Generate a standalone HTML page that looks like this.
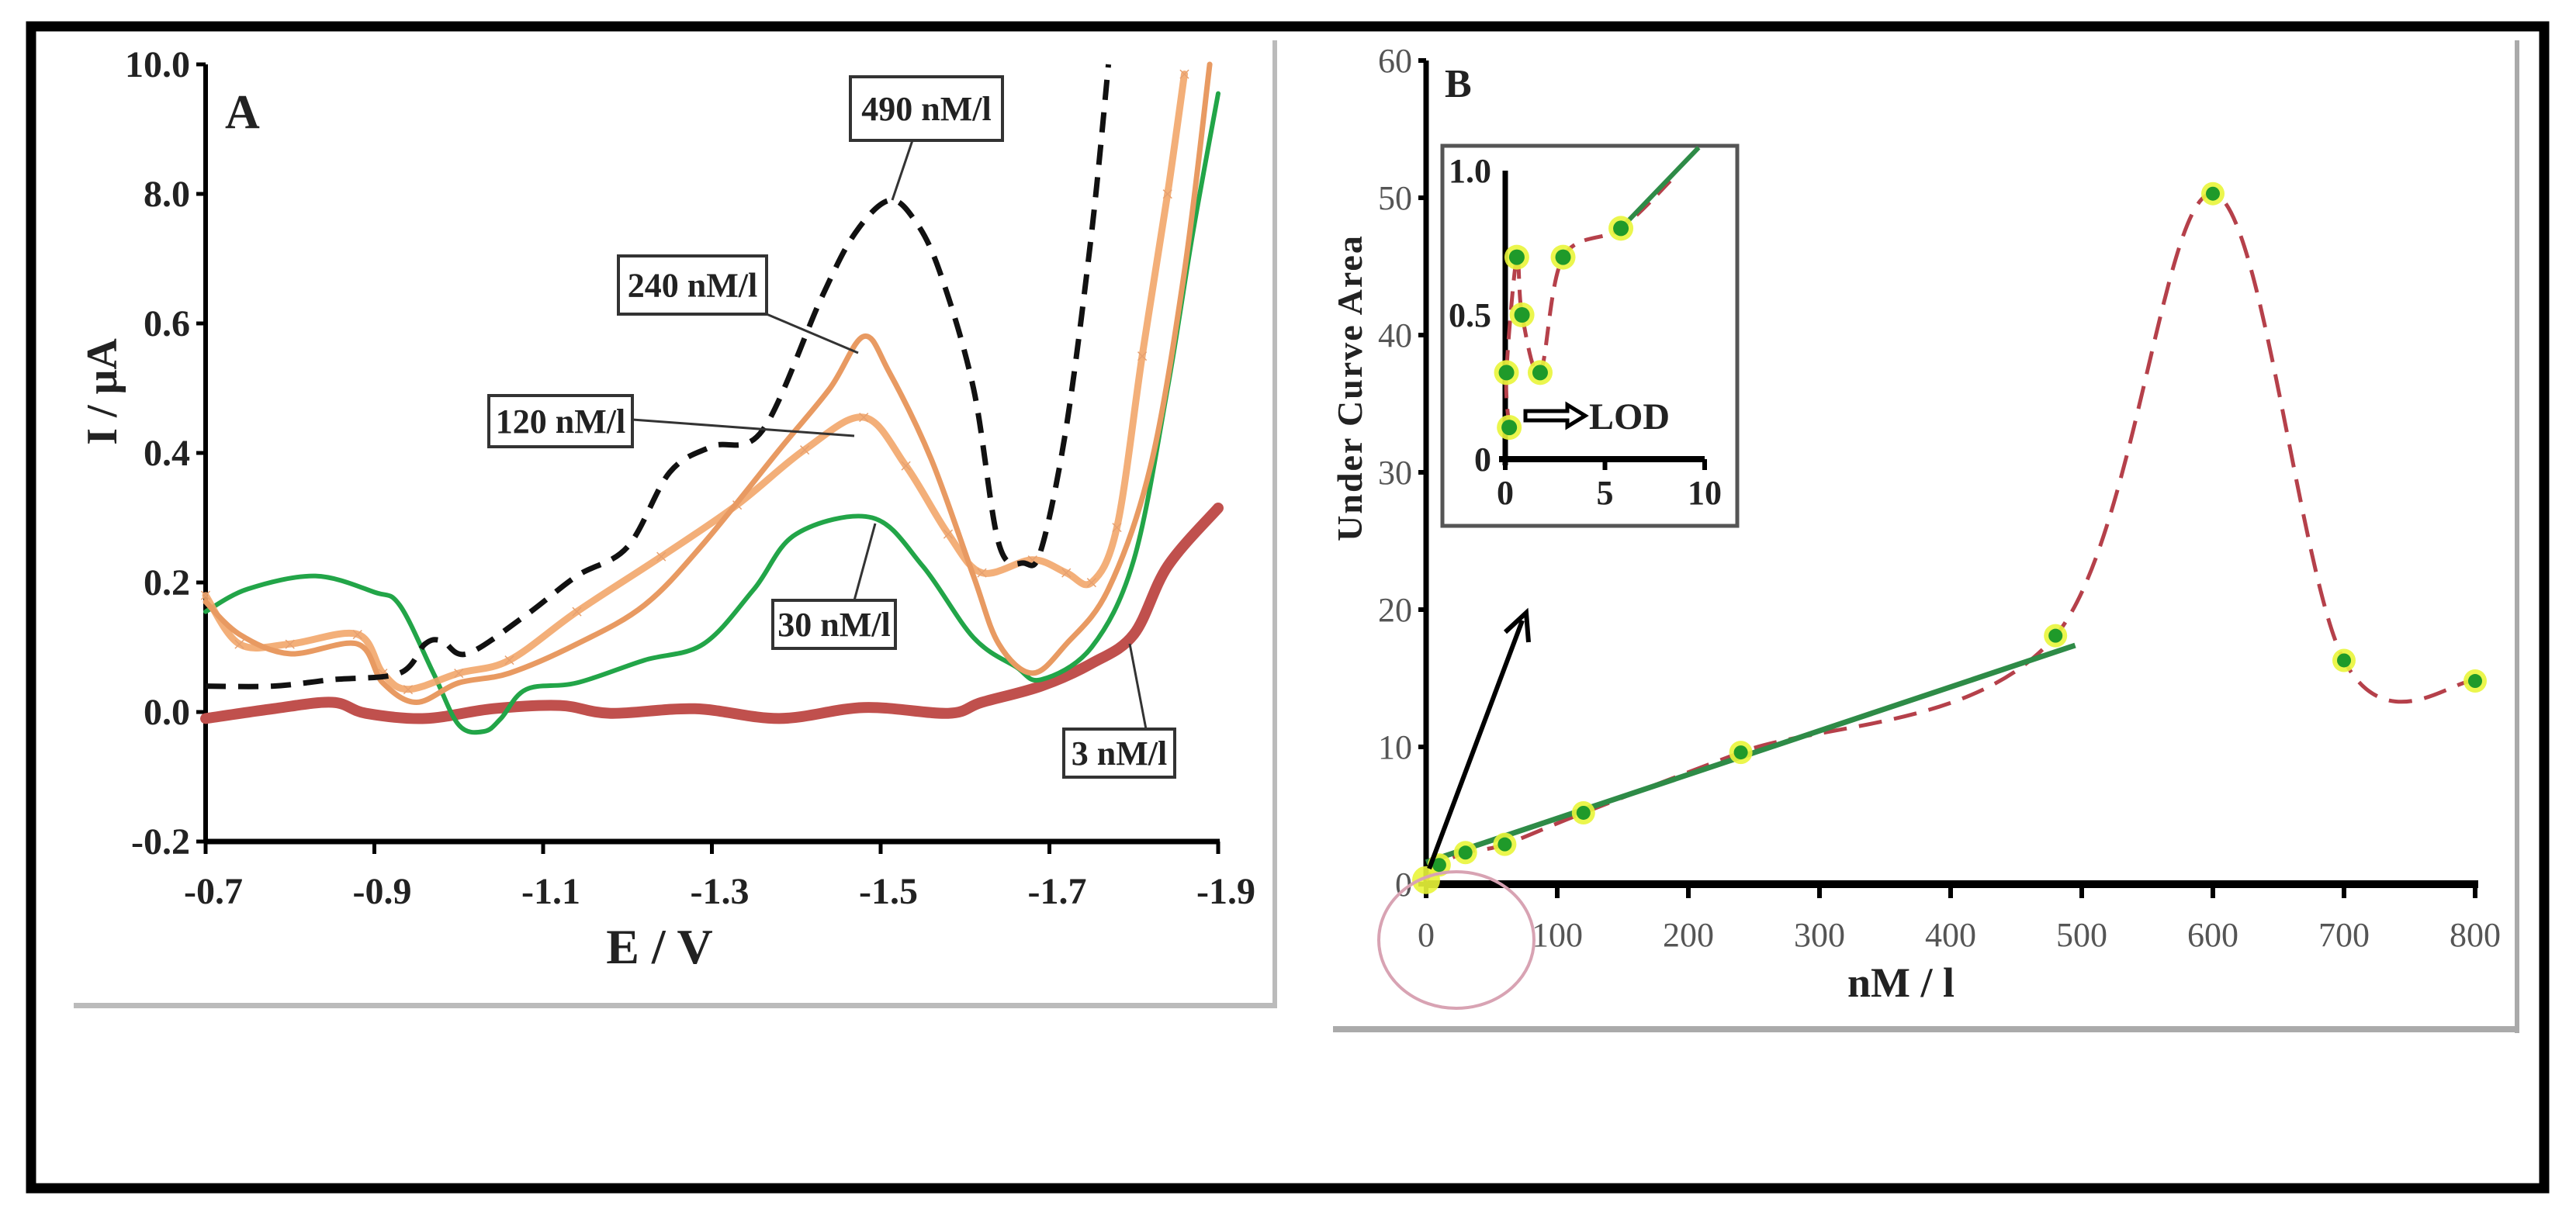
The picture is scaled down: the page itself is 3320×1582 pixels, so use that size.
<!DOCTYPE html>
<html><head><meta charset="utf-8"><style>
html,body{margin:0;padding:0;background:#fff;}
svg{display:block;}
text{font-family:"Liberation Serif",serif;}
</style></head><body>
<svg id="fig" width="3320" height="1582" viewBox="0 0 3320 1582" xmlns="http://www.w3.org/2000/svg">
<rect x="40" y="34" width="3239" height="1498" fill="#fff" stroke="#000" stroke-width="13"/>
<rect x="1640" y="52" width="6" height="1248" fill="#bbb"/>
<rect x="95" y="1293" width="1551" height="7" fill="#bbb"/>
<rect x="3241" y="52" width="6" height="1280" fill="#aaa"/>
<rect x="1718" y="1323" width="1529" height="8" fill="#aaa"/>
<g id="panelA"></g>
<g id="panelB"></g>
</svg>
<script>
// ---------- Panel A data ----------
const aXTicks = [0.7, 0.9, 1.1, 1.3, 1.5, 1.7, 1.9];
const aXTickLabels = ["-0.7","-0.9","-1.1","-1.3","-1.5","-1.7","-1.9"];
const aYTicks = [-0.2, 0, 0.2, 0.4, 0.6, 0.8, 1.0];
const aYTickLabels = ["-0.2","0.0","0.2","0.4","0.6","8.0","10.0"];
const e490 = [0.70,0.78,0.85,0.93,0.96,0.98,1.01,1.08,1.14,1.20,1.25,1.30,1.36,1.43,1.47,1.51,1.54,1.57,1.61,1.64,1.67,1.69,1.72,1.75,1.77];
const i490 = [0.04,0.04,0.05,0.06,0.105,0.11,0.09,0.15,0.21,0.255,0.37,0.41,0.435,0.64,0.74,0.79,0.76,0.68,0.50,0.26,0.23,0.25,0.44,0.74,1.0];
const e240 = [0.70,0.74,0.80,0.88,0.91,0.95,1.00,1.06,1.14,1.22,1.29,1.38,1.44,1.48,1.51,1.56,1.61,1.64,1.68,1.72,1.77,1.82,1.86,1.89];
const i240 = [0.17,0.12,0.09,0.105,0.045,0.015,0.045,0.06,0.105,0.165,0.26,0.405,0.50,0.58,0.525,0.39,0.21,0.105,0.06,0.105,0.19,0.38,0.68,1.0];
const e120 = [0.70,0.74,0.80,0.88,0.91,0.94,1.00,1.06,1.14,1.24,1.33,1.41,1.48,1.53,1.58,1.62,1.68,1.72,1.75,1.78,1.81,1.84,1.86];
const i120 = [0.18,0.105,0.105,0.12,0.06,0.035,0.06,0.08,0.155,0.24,0.32,0.405,0.455,0.38,0.275,0.215,0.235,0.215,0.20,0.285,0.55,0.80,0.985];
const e30 = [0.70,0.75,0.83,0.90,0.93,0.97,1.00,1.03,1.05,1.08,1.14,1.22,1.29,1.35,1.40,1.49,1.55,1.61,1.66,1.69,1.75,1.80,1.84,1.87,1.90];
const i30 = [0.155,0.19,0.21,0.185,0.165,0.06,-0.02,-0.03,-0.01,0.035,0.045,0.08,0.105,0.19,0.275,0.30,0.225,0.115,0.07,0.05,0.10,0.235,0.50,0.74,0.955];
const e3 = [0.70,0.78,0.85,0.89,0.96,1.04,1.12,1.18,1.28,1.38,1.48,1.58,1.62,1.69,1.75,1.80,1.84,1.90];
const i3 = [-0.01,0.005,0.015,-0.002,-0.01,0.005,0.01,-0.002,0.005,-0.01,0.007,-0.002,0.015,0.04,0.075,0.12,0.225,0.315];

// ---------- Panel B data ----------
const bXTicks = [0,100,200,300,400,500,600,700,800];
const bYTicks = [0,10,20,30,40,50,60];
const bConc = [0,10,30,60,120,240,480,600,700,800];
const bArea = [0.3,1.4,2.3,2.9,5.2,9.6,18.1,50.3,16.3,14.8];
const bFitX = [0,495];
const bFitY = [1.6,17.4];
const insXTicks = [0,5,10];
const insYTicks = [0,0.5,1.0];
const insYTickLabels = ["0","0.5","1.0"];
const insConc = [0.06,0.2,0.58,0.84,1.75,2.9,5.8];
const insArea = [0.30,0.11,0.70,0.50,0.30,0.70,0.80];
const insCurveX = [0.2,0.06,0.58,0.84,1.75,2.9,5.8,8.5];
const insCurveY = [0.11,0.30,0.70,0.50,0.30,0.70,0.80,0.98];
const insFitX = [5.8,9.7];
const insFitY = [0.80,1.08];

const NS = "http://www.w3.org/2000/svg";
function mk(parent, tag, attrs, txt){
  const el = document.createElementNS(NS, tag);
  for (const k in attrs) el.setAttribute(k, attrs[k]);
  if (txt !== undefined) el.textContent = txt;
  parent.appendChild(el);
  return el;
}
function smooth(pts){
  if (pts.length < 2) return "";
  let d = "M" + pts[0][0].toFixed(1) + "," + pts[0][1].toFixed(1);
  for (let i = 0; i < pts.length - 1; i++){
    const p0 = pts[Math.max(0,i-1)], p1 = pts[i], p2 = pts[i+1], p3 = pts[Math.min(pts.length-1,i+2)];
    const c1x = p1[0] + (p2[0]-p0[0])/6, c1y = p1[1] + (p2[1]-p0[1])/6;
    const c2x = p2[0] - (p3[0]-p1[0])/6, c2y = p2[1] - (p3[1]-p1[1])/6;
    d += " C" + c1x.toFixed(1)+","+c1y.toFixed(1)+" "+c2x.toFixed(1)+","+c2y.toFixed(1)+" "+p2[0].toFixed(1)+","+p2[1].toFixed(1);
  }
  return d;
}

// ---------- Panel A ----------
const A = document.getElementById("panelA");
const xA = e => 265 + (e - 0.7) / 1.2 * 1305;
const yA = v => 918 - v * 835;

let el;
el = mk(A, "line", {x1:265, y1:yA(1.0), x2:265, y2:yA(-0.2), stroke:"#000", "stroke-width":6});


el = mk(A, "line", {x1:265, y1:yA(-0.2), x2:1572, y2:yA(-0.2), stroke:"#000", "stroke-width":7});


aYTicks.forEach((v, i) => {
  const t = mk(A, "line", {x1:253, y1:yA(v), x2:265, y2:yA(v), stroke:"#000", "stroke-width":5});
  
  
  const lb = mk(A, "text", {x:245, y:yA(v)+16, "text-anchor":"end", "font-size":48, "font-weight":"bold", fill:"#222"}, aYTickLabels[i]);
  
  
});
aXTicks.forEach((v, i) => {
  const t = mk(A, "line", {x1:xA(v), y1:yA(-0.2), x2:xA(v), y2:yA(-0.2)+16, stroke:"#000", "stroke-width":5});
  
  
  const lb = mk(A, "text", {x:xA(v)+10, y:1165, "text-anchor":"middle", "font-size":48, "font-weight":"bold", fill:"#222"}, aXTickLabels[i]);
  
  
});
el = mk(A, "text", {x:850, y:1242, "text-anchor":"middle", "font-size":64, "font-weight":"bold", fill:"#222"}, "E / V");


el = mk(A, "text", {x:0, y:0, transform:"translate(150,505) rotate(-90)", "text-anchor":"middle", "font-size":56, "font-weight":"bold", fill:"#222"}, "I / μA");


el = mk(A, "text", {x:290, y:165, "font-size":62, "font-weight":"bold", fill:"#222"}, "A");



function seriesA(es, is, attrs, name){
  const pts = es.map((e, k) => [xA(e), yA(is[k])]);
  const p = mk(A, "path", Object.assign({d:smooth(pts), fill:"none", "stroke-linejoin":"round", "stroke-linecap":"round"}, attrs));
  
  
  return pts;
}
seriesA(e3, i3, {stroke:"#c0504d", "stroke-width":14}, "series-3nm");
seriesA(e30, i30, {stroke:"#22a548", "stroke-width":6}, "series-30nm");
const p120 = seriesA(e120, i120, {stroke:"#f2a66a", "stroke-width":9, opacity:0.9}, "series-120nm");
p120.forEach(pt => {
  const c = mk(A, "text", {x:pt[0], y:pt[1]+10, "text-anchor":"middle", "font-size":30, fill:"#e6a070", "font-family":"Liberation Sans, sans-serif"}, "×");
  
  
});
seriesA(e240, i240, {stroke:"#e89a62", "stroke-width":7}, "series-240nm");
seriesA(e490, i490, {stroke:"#111", "stroke-width":7, "stroke-dasharray":"26 16", "stroke-linecap":"butt"}, "series-490nm");

function labelBox(x, y, w, h, txt, lx1, ly1, lx2, ly2, name){
  const ln = mk(A, "line", {x1:lx1, y1:ly1, x2:lx2, y2:ly2, stroke:"#333", "stroke-width":3});
  
  
  const r = mk(A, "rect", {x:x, y:y, width:w, height:h, fill:"#fff", stroke:"#333", "stroke-width":4});
  
  
  const t = mk(A, "text", {x:x+w/2, y:y+h/2+15, "text-anchor":"middle", "font-size":44, "font-weight":"bold", fill:"#222"}, txt);
  
  
}
labelBox(1096, 99, 196, 82, "490 nM/l", 1176, 181, 1150, 258, "label-490");
labelBox(797, 330, 191, 75, "240 nM/l", 988, 405, 1106, 455, "label-240");
labelBox(630, 510, 185, 66, "120 nM/l", 815, 541, 1101, 562, "label-120");
labelBox(996, 774, 158, 62, "30 nM/l", 1101, 774, 1128, 675, "label-30");
labelBox(1371, 940, 143, 62, "3 nM/l", 1477, 940, 1456, 830, "label-3");

// ---------- Panel B ----------
const B = document.getElementById("panelB");
const xB = v => 1838 + v * 1.69;
const yB = v => 1140 - v * 17.7;

el = mk(B, "line", {x1:xB(0), y1:yB(60), x2:xB(0), y2:yB(0), stroke:"#000", "stroke-width":7});


el = mk(B, "line", {x1:xB(0), y1:yB(0), x2:xB(800)+4, y2:yB(0), stroke:"#000", "stroke-width":10});


bYTicks.forEach(v => {
  const t = mk(B, "line", {x1:xB(0)-10, y1:yB(v), x2:xB(0), y2:yB(v), stroke:"#000", "stroke-width":6});
  
  
  const lb = mk(B, "text", {x:xB(0)-18, y:yB(v)+15, "text-anchor":"end", "font-size":44, fill:"#555"}, String(v));
  
  
});
bXTicks.forEach(v => {
  const t = mk(B, "line", {x1:xB(v), y1:yB(0), x2:xB(v), y2:yB(0)+18, stroke:"#000", "stroke-width":6});
  
  
  const lb = mk(B, "text", {x:xB(v), y:1220, "text-anchor":"middle", "font-size":44, fill:"#555"}, String(v));
  
  
});
el = mk(B, "text", {x:2450, y:1285, "text-anchor":"middle", "font-size":54, "font-weight":"bold", fill:"#222"}, "nM / l");


el = mk(B, "text", {x:0, y:0, transform:"translate(1755,500) rotate(-90)", "text-anchor":"middle", "font-size":46, "font-weight":"bold", fill:"#222", "letter-spacing":"2"}, "Under Curve Area");


el = mk(B, "text", {x:1862, y:125, "font-size":52, "font-weight":"bold", fill:"#222"}, "B");



// dashed red curve
el = mk(B, "path", {d:smooth(bConc.map((c,k)=>[xB(c), yB(bArea[k])])), fill:"none", stroke:"#b5404a", "stroke-width":5, "stroke-dasharray":"30 16"});


// fit line
el = mk(B, "line", {x1:xB(bFitX[0]), y1:yB(bFitY[0]), x2:xB(bFitX[1]), y2:yB(bFitY[1]), stroke:"#2e8b47", "stroke-width":7});


bConc.forEach((c, k) => {
  const h = mk(B, "circle", {cx:xB(c), cy:yB(bArea[k]), r: k === 0 ? 18 : 15, fill:"#e9f53a", opacity:0.9});
  
  
  if (k > 0){
    const d = mk(B, "circle", {cx:xB(c), cy:yB(bArea[k]), r:9, fill:"#1f9a2a"});
    
    
  }
});
el = mk(B, "ellipse", {cx:1877, cy:1212, rx:100, ry:88, fill:"none", stroke:"#d8a3b3", "stroke-width":4});


el = mk(B, "line", {x1:1842, y1:1120, x2:1962, y2:800, stroke:"#000", "stroke-width":6});


el = mk(B, "path", {d:"M1940,815 L1967,790 L1970,828", fill:"none", stroke:"#000", "stroke-width":6});



// inset
const xI = v => 1940 + v * 25.7;
const yI = v => 592 - v * 372;
el = mk(B, "rect", {x:1859, y:188, width:380, height:490, fill:"#fff", stroke:"#555", "stroke-width":5});


el = mk(B, "line", {x1:xI(0), y1:yI(1.0), x2:xI(0), y2:yI(0)+8, stroke:"#000", "stroke-width":7});


el = mk(B, "line", {x1:xI(0)-8, y1:yI(0), x2:xI(10), y2:yI(0), stroke:"#000", "stroke-width":8});


insYTicks.forEach((v, i) => {
  const lb = mk(B, "text", {x:1922, y:yI(v)+15, "text-anchor":"end", "font-size":44, "font-weight":"bold", fill:"#222"}, insYTickLabels[i]);
  
  
});
insXTicks.forEach(v => {
  const t = mk(B, "line", {x1:xI(v), y1:yI(0), x2:xI(v), y2:yI(0)+14, stroke:"#000", "stroke-width":6});
  
  
  const lb = mk(B, "text", {x:xI(v), y:650, "text-anchor":"middle", "font-size":44, "font-weight":"bold", fill:"#222"}, String(v));
  
  
});
el = mk(B, "path", {d:smooth(insCurveX.map((c,k)=>[xI(c), yI(insCurveY[k])])), fill:"none", stroke:"#b5404a", "stroke-width":5, "stroke-dasharray":"24 14"});


el = mk(B, "line", {x1:xI(insFitX[0]), y1:yI(insFitY[0]), x2:xI(insFitX[1]), y2:yI(insFitY[1]), stroke:"#2e8b47", "stroke-width":6});


insConc.forEach((c, k) => {
  const h = mk(B, "circle", {cx:xI(c), cy:yI(insArea[k]), r:16, fill:"#e9f53a", opacity:0.9});
  
  
  const d = mk(B, "circle", {cx:xI(c), cy:yI(insArea[k]), r:10, fill:"#1f9a2a"});
  
  
});
el = mk(B, "path", {d:"M1966,530 L2020,530 L2020,522 L2043,536 L2020,550 L2020,542 L1966,542 Z", fill:"#fff", stroke:"#000", "stroke-width":5});


el = mk(B, "text", {x:2048, y:553, "font-size":48, "font-weight":"bold", fill:"#222"}, "LOD");


</script>
</body></html>
